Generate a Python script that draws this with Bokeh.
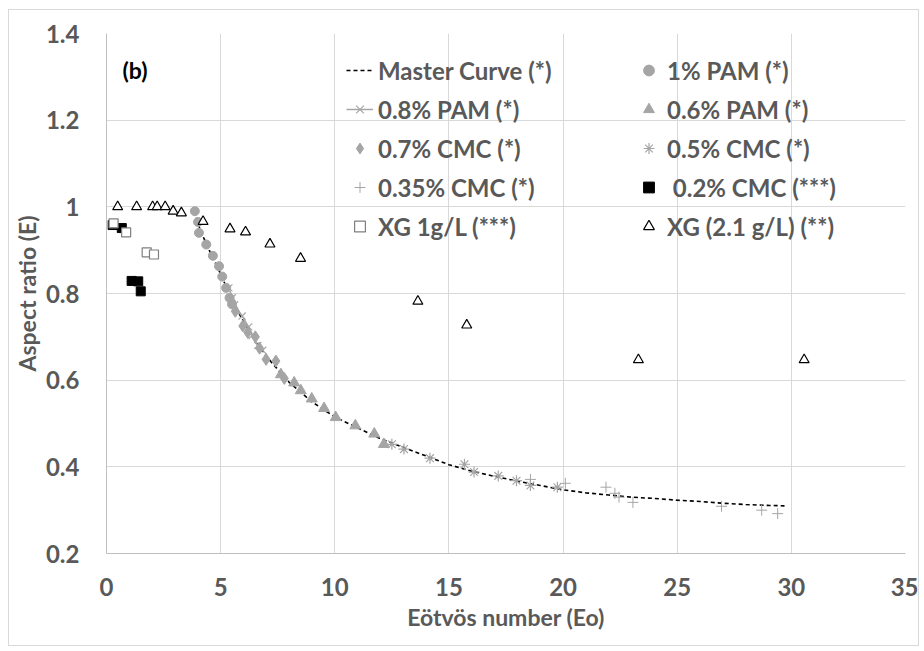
from bokeh.plotting import figure
from bokeh.models import Legend, LegendItem, FixedTicker, Range1d
from bokeh.embed import file_html
from bokeh.resources import INLINE
from bokeh.core.properties import value

# ---------------- data ----------------
master_x = [3.8, 4.2, 4.5, 5.0, 5.5, 6.0, 6.5, 7.0, 7.5, 8.0, 9.0, 10.0, 11.0, 12.0, 13.0,
            14.0, 15.0, 16.0, 17.0, 18.0, 19.0, 20.0, 21.0, 22.0, 23.0, 24.0, 25.0, 26.0,
            27.0, 28.0, 29.0, 29.7]
master_y = [0.99, 0.935, 0.90, 0.845, 0.785, 0.735, 0.695, 0.655, 0.625, 0.595, 0.55, 0.515,
            0.49, 0.465, 0.445, 0.425, 0.405, 0.39, 0.378, 0.367, 0.357, 0.347, 0.34, 0.335,
            0.33, 0.327, 0.323, 0.32, 0.316, 0.313, 0.311, 0.31]

pam1_x = [3.87, 4.01, 4.05, 4.37, 4.66, 4.93, 5.07, 5.24, 5.39, 5.50]
pam1_y = [0.99, 0.965, 0.94, 0.913, 0.887, 0.863, 0.839, 0.813, 0.79, 0.775]

pam08_x = [5.36, 5.51, 5.61, 5.94, 6.23, 6.38, 6.63, 6.84]
pam08_y = [0.813, 0.79, 0.774, 0.748, 0.723, 0.703, 0.68, 0.669]

pam06_x = [7.64, 8.22, 8.51, 8.99, 9.53, 10.04, 10.9, 11.73, 12.15]
pam06_y = [0.613, 0.594, 0.576, 0.557, 0.535, 0.514, 0.495, 0.476, 0.452]

cmc07_x = [5.64, 5.97, 6.19, 6.52, 6.70, 6.99, 7.42, 7.79]
cmc07_y = [0.759, 0.725, 0.71, 0.70, 0.674, 0.648, 0.644, 0.604]

cmc05_x = [12.5, 13.03, 14.17, 15.68, 16.1, 17.16, 17.96, 18.57, 19.75]
cmc05_y = [0.452, 0.441, 0.42, 0.406, 0.388, 0.379, 0.368, 0.357, 0.353]

cmc035_x = [18.57, 20.1, 21.88, 22.27, 22.45, 23.06, 26.94, 28.7, 29.4]
cmc035_y = [0.371, 0.362, 0.353, 0.339, 0.33, 0.318, 0.309, 0.30, 0.292]

cmc02_x = [0.27, 0.67, 1.10, 1.39, 1.50]
cmc02_y = [0.958, 0.951, 0.829, 0.828, 0.805]

xg1_x = [0.31, 0.86, 1.76, 2.08]
xg1_y = [0.962, 0.941, 0.895, 0.890]

xg21_x = [0.49, 1.32, 2.02, 2.22, 2.57, 2.92, 3.28, 4.23, 5.41, 6.09, 7.16, 8.50,
          13.64, 15.78, 23.3, 30.56]
xg21_y = [1.0, 1.0, 1.0, 1.0, 1.0, 0.99, 0.986, 0.966, 0.949, 0.942, 0.914, 0.881,
          0.782, 0.727, 0.647, 0.647]

x_ticks = [0, 5, 10, 15, 20, 25, 30, 35]
x_tick_labels = ["0", "5", "10", "15", "20", "25", "30", "35"]
y_ticks = [0.2, 0.4, 0.6, 0.8, 1.0, 1.2, 1.4]
y_tick_labels = ["0.2", "0.4", "0.6", "0.8", "1", "1.2", "1.4"]

labels = ["Master Curve (*)", "1% PAM (*)", "0.8% PAM (*)", "0.6% PAM (*)",
          "0.7% CMC (*)", "0.5% CMC (*)", "0.35% CMC (*)", " 0.2% CMC (***)",
          "XG 1g/L (***)", "XG (2.1 g/L) (**)"]

# ---------------- style ----------------
FONT = "Lato"
GREY = "#a5a5a5"
TXT = "#595959"

p = figure(width=909, height=635, output_backend="svg", toolbar_location=None,
           x_range=Range1d(0, 35), y_range=Range1d(0.2, 1.4),
           min_border_left=91, min_border_right=15, min_border_top=23, min_border_bottom=94)
p.margin = (9, 0, 0, 8)
p.styles = {"border": "1px solid #d9d9d9", "box-sizing": "content-box"}
p.outline_line_color = None
p.background_fill_color = "white"
p.border_fill_color = "white"

p.xaxis.ticker = FixedTicker(ticks=x_ticks)
p.yaxis.ticker = FixedTicker(ticks=y_ticks)
p.xaxis.major_label_overrides = {t: l for t, l in zip(x_ticks, x_tick_labels)}
p.yaxis.major_label_overrides = {t: l for t, l in zip(y_ticks, y_tick_labels)}

for ax in (p.xaxis, p.yaxis):
    ax.axis_line_color = "#bfbfbf"
    ax.major_tick_line_color = None
    ax.minor_tick_line_color = None
    ax.major_label_text_font = FONT
    ax.major_label_text_font_style = "bold"
    ax.major_label_text_font_size = "24px"
    ax.major_label_text_color = TXT
    ax.axis_label_text_font = FONT
    ax.axis_label_text_font_style = "bold"
    ax.axis_label_text_font_size = "23px"
    ax.axis_label_text_color = TXT

p.xaxis.major_label_standoff = 18
p.yaxis.major_label_standoff = 21
p.xaxis.axis_label = "Eötvös number (Eo)"
p.yaxis.axis_label = "Aspect ratio (E)"
p.xaxis.axis_label_standoff = 4
p.yaxis.axis_label_standoff = 2

p.xgrid.grid_line_color = "#d9d9d9"
p.ygrid.grid_line_color = "#d9d9d9"

# ---------------- glyphs ----------------
r_master = p.line(master_x, master_y, line_color="black", line_width=1.6, line_dash="4 3")
r_pam1 = p.scatter(pam1_x, pam1_y, marker="circle", size=9, fill_color=GREY, line_color=GREY)
r_pam08_l = p.line(pam08_x, pam08_y, line_color=GREY, line_width=1.5)
r_pam08_m = p.scatter(pam08_x, pam08_y, marker="x", size=10, line_color=GREY, line_width=1.2)
r_pam06 = p.scatter(pam06_x, pam06_y, marker="triangle", size=11, fill_color=GREY, line_color=GREY)
r_cmc07 = p.scatter(cmc07_x, cmc07_y, marker="diamond", size=12, fill_color=GREY, line_color=GREY)
r_cmc05 = p.scatter(cmc05_x, cmc05_y, marker="asterisk", size=11, line_color=GREY, line_width=1.2)
r_cmc035 = p.scatter(cmc035_x, cmc035_y, marker="cross", size=11, line_color=GREY, line_width=1.0)
r_cmc02 = p.scatter(cmc02_x, cmc02_y, marker="square", size=9, fill_color="black", line_color="black")
r_xg1 = p.scatter(xg1_x, xg1_y, marker="square", size=9, fill_color="white", line_color="#7f7f7f", line_width=1.2)
r_xg21 = p.scatter(xg21_x, xg21_y, marker="triangle", size=10, fill_color="white", line_color="black", line_width=1.2)

p.text(x=[0.7], y=[1.315], text=["(b)"], text_font=value(FONT), text_font_style="bold",
       text_font_size="23px", text_color="black", text_baseline="middle", text_align="left")

col1 = [LegendItem(label=labels[0], renderers=[r_master]),
        LegendItem(label=labels[2], renderers=[r_pam08_l, r_pam08_m]),
        LegendItem(label=labels[4], renderers=[r_cmc07]),
        LegendItem(label=labels[6], renderers=[r_cmc035]),
        LegendItem(label=labels[8], renderers=[r_xg1])]
col2 = [LegendItem(label=labels[1], renderers=[r_pam1]),
        LegendItem(label=labels[3], renderers=[r_pam06]),
        LegendItem(label=labels[5], renderers=[r_cmc05]),
        LegendItem(label=labels[7], renderers=[r_cmc02]),
        LegendItem(label=labels[9], renderers=[r_xg21])]

for items, loc in ((col1, (240, 312)), (col2, (529, 312))):
    lg = Legend(items=items, location=loc, orientation="vertical",
                glyph_width=27, glyph_height=30, label_height=30, spacing=9,
                padding=0, margin=0, label_standoff=5,
                label_text_font=FONT, label_text_font_style="bold",
                label_text_font_size="24px", label_text_color=TXT,
                background_fill_alpha=0, border_line_alpha=0)
    p.add_layout(lg, "center")

open("out.html", "w").write(file_html(p, INLINE))
